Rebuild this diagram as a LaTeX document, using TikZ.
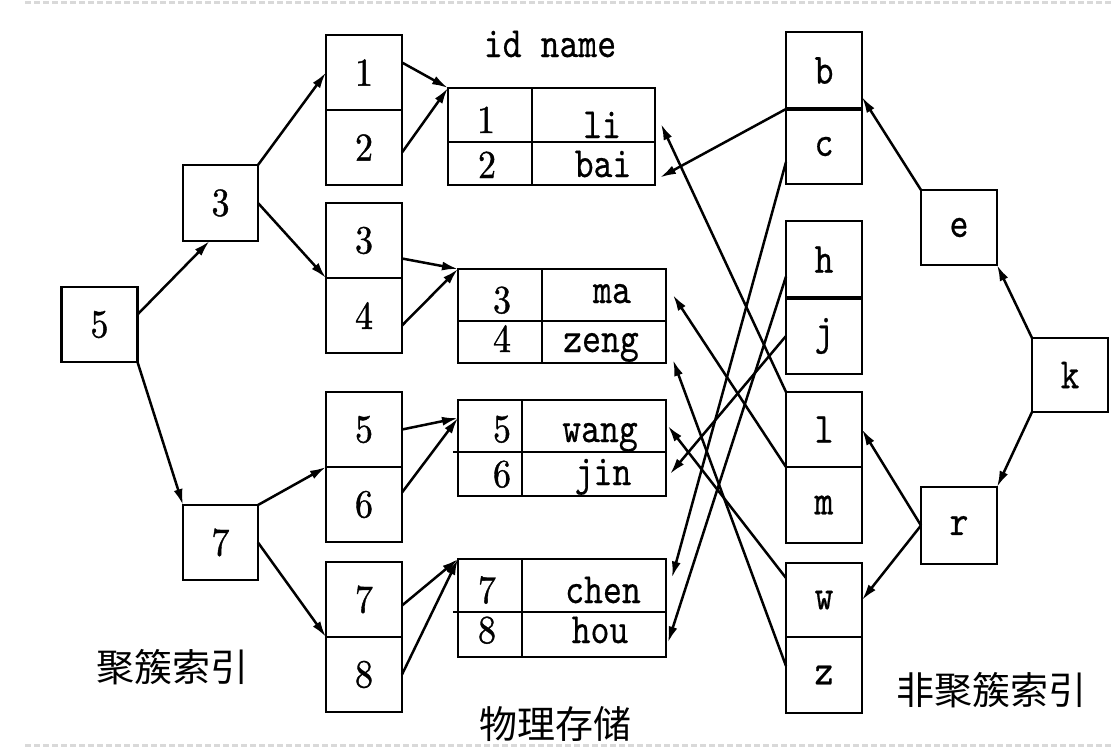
\documentclass[tikz,border=0pt]{standalone}
\usepackage{fontspec}
\usepackage{graphicx}
\newfontfamily\cjk{Noto Sans CJK SC}
\newfontfamily\mytt{lmmono10-regular.otf}[FakeBold=0.5]
\newfontfamily\myrm{lmroman10-regular.otf}[FakeBold=1.0]
\usetikzlibrary{arrows.meta}
\newcommand{\st}[1]{\scalebox{1}[1.2]{#1}}
\newcommand{\dg}[1]{\scalebox{1}[1.1]{\myrm #1}}
\begin{document}
\begin{tikzpicture}[x=1pt,y=-1pt,
  every node/.style={font=\fontsize{36}{40}\selectfont\mytt},
  box/.style={draw, line width=2.5pt, inner sep=0pt, outer sep=0pt, minimum width=76pt, minimum height=75pt},
  cellbox/.style={draw, line width=2.5pt, inner sep=0pt, outer sep=0pt},
  lbl/.style={anchor=base, inner sep=0pt},
  arr/.style={line width=2.5pt, -{Latex[length=16pt,width=9pt]}},
  cn/.style={font=\fontsize{38}{42}\selectfont\cjk, inner sep=0pt},
  rule/.style={gray!30, line width=3pt, dash pattern=on 6pt off 3pt}
]
\useasboundingbox (0,0) rectangle (1113,747);
\draw[rule] (25,2) -- (1113,2);
\draw[rule] (25,745) -- (1113,745);

% clustered index tree
\node[box] (n5) at (99.5,324.5) {\dg{5}};
\node[box, minimum width=75pt, minimum height=76pt] (n3) at (220.5,203) {\dg{3}};
\node[box, minimum width=75pt] (n7) at (220.5,542.5) {\dg{7}};
\node[box] (c1) at (364,72.5) {\dg{1}};
\node[box] (c2) at (364,147.5) {\dg{2}};
\node[box] (c3) at (364,240.5) {\dg{3}};
\node[box] (c4) at (364,315.5) {\dg{4}};
\node[box] (c5) at (364,429.5) {\dg{5}};
\node[box] (c6) at (364,504.5) {\dg{6}};
\node[box] (c7) at (364,599.5) {\dg{7}};
\node[box] (c8) at (364,674.5) {\dg{8}};

% tables
\node[lbl] (hdr) at (550,57) {\st{id name}};
\node[cellbox, minimum width=84pt, minimum height=54pt] (i1) at (490,115) {};
\node[cellbox, minimum width=123pt, minimum height=54pt] (nli) at (593.5,115) {};
\node[cellbox, minimum width=84pt, minimum height=43pt] (i2) at (490,163.5) {};
\node[cellbox, minimum width=123pt, minimum height=43pt] (nbai) at (593.5,163.5) {};
\node[lbl] (t1a) at (486,133) {\dg{1}};
\node[lbl] (t1b) at (602,138) {\st{li}};
\node[lbl] (t1c) at (487,178) {\dg{2}};
\node[lbl] (t1d) at (603,177) {\st{bai}};

\node[cellbox, minimum width=84pt, minimum height=52pt] (i3) at (500,295) {};
\node[cellbox, minimum width=124pt, minimum height=52pt] (nma) at (604,295) {};
\node[cellbox, minimum width=84pt, minimum height=42pt] (i4) at (500,342) {};
\node[cellbox, minimum width=124pt, minimum height=42pt] (nzeng) at (604,342) {};
\node[lbl] (t2a) at (502,313) {\dg{3}};
\node[lbl] (t2b) at (612,303) {\st{ma}};
\node[lbl] (t2c) at (502,352) {\dg{4}};
\node[lbl] (t2d) at (601,352) {\st{zeng}};

\node[cellbox, minimum width=64pt, minimum height=52pt] (i5) at (490,426) {};
\node[cellbox, minimum width=144pt, minimum height=52pt] (nwang) at (594,426) {};
\node[cellbox, minimum width=64pt, minimum height=44pt] (i6) at (490,474) {};
\node[cellbox, minimum width=144pt, minimum height=44pt] (njin) at (594,474) {};
\draw[line width=2.5pt] (453,452) -- (i5.south west);
\node[lbl] (t3a) at (502,442) {\dg{5}};
\node[lbl] (t3b) at (600,442) {\st{wang}};
\node[lbl] (t3c) at (502,487) {\dg{6}};
\node[lbl] (t3d) at (603,485) {\st{jin}};

\node[cellbox, minimum width=64pt, minimum height=53pt] (i7) at (490,585.5) {};
\node[cellbox, minimum width=144pt, minimum height=53pt] (nchen) at (594,585.5) {};
\node[cellbox, minimum width=64pt, minimum height=45pt] (i8) at (490,634.5) {};
\node[cellbox, minimum width=144pt, minimum height=45pt] (nhou) at (594,634.5) {};
\draw[line width=2.5pt] (453,612) -- (i7.south west);
\node[lbl] (t4a) at (487,603) {\dg{7}};
\node[lbl] (t4b) at (603,603) {\st{chen}};
\node[lbl] (t4c) at (487,643) {\dg{8}};
\node[lbl] (t4d) at (600,643) {\st{hou}};

% non-clustered index
\node[box, minimum height=77pt] (rb) at (824,70.5) {\st{b}};
\node[box] (rc) at (824,146.5) {\st{c}};
\node[box, minimum height=77pt] (rh) at (824,259.5) {\st{h}};
\node[box, minimum height=76pt] (rj) at (824,336) {\st{j}};
\draw[line width=4pt] (rb.south west) -- (rb.south east);
\draw[line width=4pt] (rh.south west) -- (rh.south east);
\node[box] (rl) at (824,429.5) {\st{l}};
\node[box, minimum height=76pt] (rm) at (824,505) {\st{m}};
\node[box, minimum height=74pt] (rw) at (824,600) {\st{w}};
\node[box, minimum height=76pt] (rz) at (824,675) {\st{z}};
\node[box] (re) at (959,227.5) {\st{e}};
\node[box, minimum height=74pt] (rk) at (1070,375) {\st{k}};
\node[box, minimum height=77pt] (rr) at (959,525.5) {\st{r}};

% labels
\node[cn] (lab1) at (172,667) {聚簇索引};
\node[cn] (lab2) at (555,724) {物理存储};
\node[cn] (lab3) at (991,690) {非聚簇索引};

% arrows left
\draw[arr] ([yshift=10pt]n5.east) -- ([xshift=-11pt]n3.south);
\draw[arr] (n5.south east) -- (n7.north west);
\draw[arr] (n3.north east) -- (c1.west);
\draw[arr] (n3.east) -- (c3.south west);
\draw[arr] (n7.north east) -- (c5.south west);
\draw[arr] (n7.east) -- (c7.south west);
\draw[arr] ([yshift=10pt]c1.east) -- (i1.north west);
\draw[arr] ([yshift=-5pt]c2.east) -- (i1.north west);
\draw[arr] ([yshift=-18pt]c3.east) -- (i3.north west);
\draw[arr] ([yshift=-10pt]c4.east) -- (i3.north west);
\draw[arr] (c5.east) -- ([yshift=-18pt]i5.north west);
\draw[arr] ([yshift=12pt]c6.east) -- ([yshift=-18pt]i5.north west);
\draw[arr] ([yshift=-6pt]c7.east) -- (i7.north west);
\draw[arr] (c8.east) -- (i7.north west);

% arrows right
\draw[arr] (rk.north west) -- (re.south east);
\draw[arr] (rk.south west) -- (rr.north east);
\draw[arr] (re.north west) -- ([yshift=12pt]rb.south east);
\draw[arr] (rr.west) -- (rl.east);
\draw[arr] (rr.west) -- (rw.east);
\draw[arr] (rb.south west) -- ([xshift=5pt,yshift=-14pt]nbai.east);
\draw[arr] ([yshift=-15.5pt]rc.west) -- ([xshift=6pt,yshift=8pt]nchen.east);
\draw[arr] ([yshift=-17pt]rh.west) -- ([xshift=2pt,yshift=-8pt]nhou.east);
\draw[arr] (rj.west) -- ([xshift=4pt]njin.east);
\draw[arr] (rl.north west) -- ([xshift=6pt,yshift=-9pt]nli.east);
\draw[arr] (rm.north west) -- ([xshift=7pt]nma.east);
\draw[arr] ([yshift=22pt]rw.west) -- ([xshift=2pt]nwang.east);
\draw[arr] ([yshift=9pt]rz.west) -- ([xshift=7pt,yshift=-18pt]nzeng.east);
\end{tikzpicture}
\end{document}
